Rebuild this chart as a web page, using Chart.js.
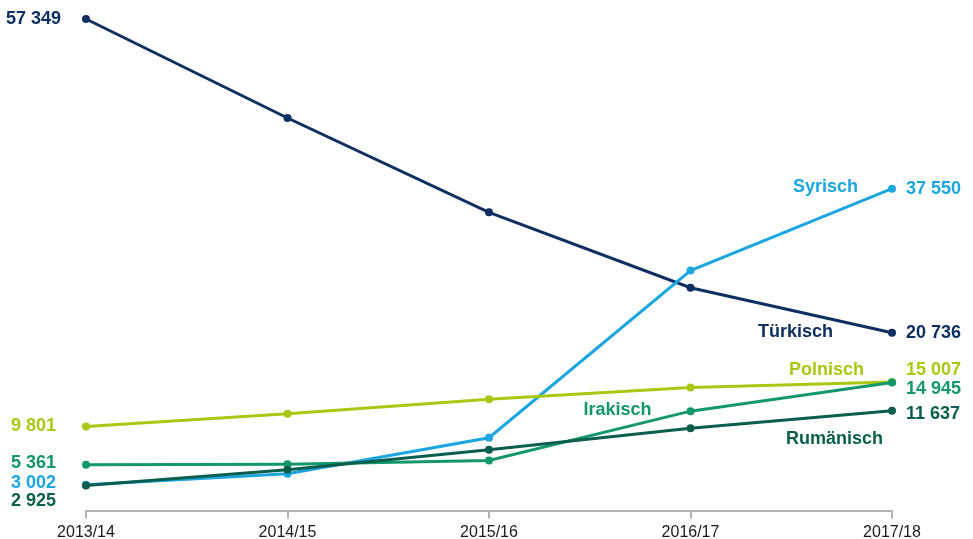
<!DOCTYPE html>
<html>
<head>
<meta charset="utf-8">
<script src="https://cdn.jsdelivr.net/npm/chart.js@4/dist/chart.umd.min.js"></script>
<style>
  html, body { margin: 0; padding: 0; background: #fff; }
  #wrap { width: 973px; height: 539px; }
</style>
</head>
<body>
<div id="wrap"><canvas id="Chart"></canvas></div>
<script>
const categories = ["2013/14", "2014/15", "2015/16", "2016/17", "2017/18"];

const tuerkisch = [57349, 45800, 34800, 26000, 20736];
const syrisch = [3002, 4300, 8500, 28000, 37550];
const polnisch = [9801, 11300, 13000, 14350, 15007];
const irakisch = [5361, 5400, 5850, 11600, 14945];
const rumaenisch = [2925, 4750, 7100, 9600, 11637];

const seriesNames = ["Rumänisch", "Irakisch", "Polnisch", "Syrisch", "Türkisch"];
const seriesColors = ["#0a5e4d", "#13986b", "#a9c814", "#1ba6e0", "#0e2f61"];

// label placement per series: [dx, dy] for left value, right value, name (name anchored at point index)
const labelPos = {
  "Rumänisch": { left: [-30, 16], right: [14, 3], name: [4, -9, 28] },
  "Irakisch": { left: [-30, -2], right: [14, 7], name: [3, -39, -1] },
  "Polnisch": { left: [-30, -1], right: [14, -12], name: [4, -28, -12] },
  "Syrisch": { left: [-30, -2], right: [14, 0], name: [4, -34, -2] },
  "Türkisch": { left: [-25, 0], right: [14, 0], name: [4, -59, -1] },
};

const fmt = (v) => String(v).replace(/\B(?=(\d{3})+(?!\d))/g, " ");

const labelPlugin = {
  id: "labels",
  afterDatasetsDraw(chart) {
    const ctx = chart.ctx;
    ctx.save();
    ctx.font = "bold 18px Arial, 'Liberation Sans', sans-serif";
    ctx.textBaseline = "middle";
    chart.data.datasets.forEach((ds, i) => {
      const pts = chart.getDatasetMeta(i).data;
      const pos = labelPos[ds.label];
      ctx.fillStyle = ds.borderColor;
      const first = pts[0], last = pts[pts.length - 1];
      ctx.textAlign = "right";
      ctx.fillText(fmt(ds.data[0]), first.x + pos.left[0], first.y + pos.left[1]);
      ctx.textAlign = "left";
      ctx.fillText(fmt(ds.data[ds.data.length - 1]), last.x + pos.right[0], last.y + pos.right[1]);
      const p = pts[pos.name[0]];
      ctx.textAlign = "right";
      ctx.fillText(ds.label, p.x + pos.name[1], p.y + pos.name[2]);
    });
    ctx.restore();
  },
};

const allData = [rumaenisch, irakisch, polnisch, syrisch, tuerkisch];

const ctx = document.getElementById("Chart").getContext("2d");
new Chart(ctx, {
  type: "line",
  data: {
    labels: categories,
    datasets: allData.map((d, i) => ({
      label: seriesNames[i],
      data: d,
      borderColor: seriesColors[i],
      backgroundColor: seriesColors[i],
      pointBackgroundColor: seriesColors[i],
      borderWidth: 3,
      pointRadius: 4,
      pointBorderWidth: 0,
      tension: 0,
      clip: false,
    })),
  },
  options: {
    responsive: true,
    maintainAspectRatio: false,
    animation: false,
    layout: { padding: { left: 86, right: 81, top: 19, bottom: -8.5 } },
    plugins: { legend: { display: false }, tooltip: { enabled: false } },
    scales: {
      y: { display: false, min: 0, max: 57349 },
      x: {
        offset: false,
        grid: {
          drawOnChartArea: false,
          drawTicks: true,
          tickLength: 8,
          color: "#b3b3b3",
          lineWidth: 2,
        },
        border: { display: true, color: "#b3b3b3", width: 2 },
        ticks: {
          color: "#1a1a1a",
          padding: 5.5,
          maxRotation: 0,
          font: { family: "Arial, 'Liberation Sans', sans-serif", size: 16, lineHeight: 1.12 },
        },
      },
    },
  },
  plugins: [labelPlugin],
});
</script>
</body>
</html>
